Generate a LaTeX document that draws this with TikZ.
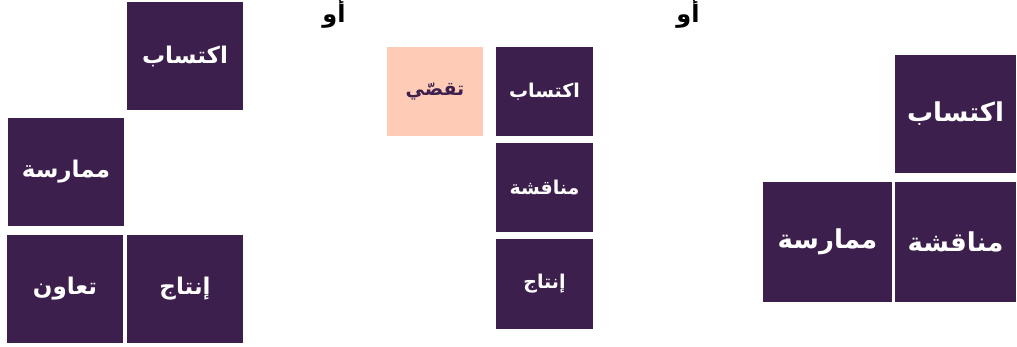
\documentclass[tikz,border=0pt]{standalone}
\usepackage{fontspec}
\TeXXeTstate=1
\newfontfamily\arabicfont[Script=Arabic]{DejaVu Sans}
\definecolor{plum}{HTML}{3C1F4C}
\definecolor{peach}{HTML}{FDCBB6}
\tikzset{
  tile/.style={fill=plum, draw=none, text=white, inner sep=0pt, align=center},
  big/.style={font=\arabicfont\bfseries\fontsize{23}{27}\selectfont},
  mid/.style={font=\arabicfont\bfseries\fontsize{19}{23}\selectfont},
  large/.style={font=\arabicfont\bfseries\fontsize{26}{31}\selectfont},
  ortext/.style={font=\arabicfont\bfseries\fontsize{24}{28}\selectfont, text=black, inner sep=0pt}
}
\newcommand{\ar}[1]{\beginR #1\endR}
\begin{document}
\begin{tikzpicture}[x=1pt,y=-1pt]
\useasboundingbox[fill=white] (0,0) rectangle (1017,347);
% left group
\node[tile,big,minimum width=116pt,minimum height=108pt] (a1) at (185,56) {\ar{اكتساب}};
\node[tile,big,minimum width=116pt,minimum height=108pt] (a2) at (66,172) {\ar{ممارسة}};
\node[tile,big,minimum width=116pt,minimum height=108pt] (a3) at (65,289) {\ar{تعاون}};
\node[tile,big,minimum width=116pt,minimum height=108pt] (a4) at (185,289) {\ar{إنتاج}};
\node[ortext] (or1) at (334,14) {\ar{أو}};
% middle group
\node[tile,mid,fill=peach,text=plum,minimum width=96pt,minimum height=89pt] (b0) at (435,91.5) {\ar{تقصّي}};
\node[tile,mid,minimum width=97pt,minimum height=89pt] (b1) at (544.5,91.5) {\ar{اكتساب}};
\node[tile,mid,minimum width=97pt,minimum height=89pt] (b2) at (544.5,187.5) {\ar{مناقشة}};
\node[tile,mid,minimum width=97pt,minimum height=90pt] (b3) at (544.5,284) {\ar{إنتاج}};
\node[ortext] (or2) at (688,14) {\ar{أو}};
% right group
\node[tile,large,minimum width=121pt,minimum height=118pt] (c1) at (955.5,114) {\ar{اكتساب}};
\node[tile,large,minimum width=129pt,minimum height=120pt] (c2) at (827.5,242) {\ar{ممارسة}};
\node[tile,large,minimum width=121pt,minimum height=120pt] (c3) at (955.5,242) {\ar{مناقشة}};
\end{tikzpicture}
\end{document}
